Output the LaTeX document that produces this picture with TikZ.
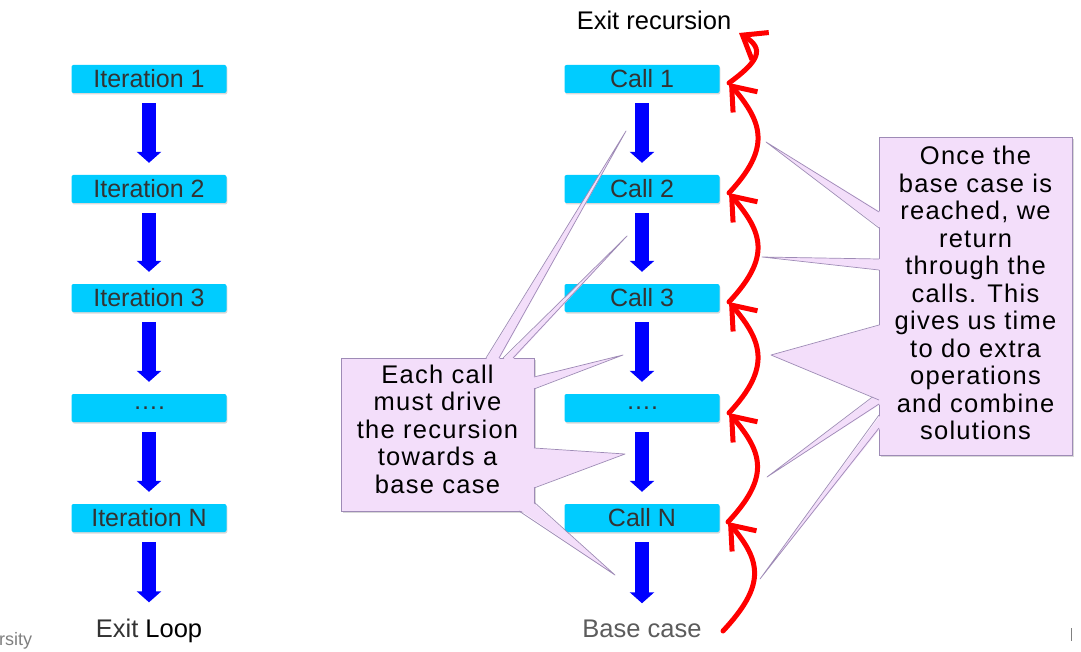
\documentclass[tikz,border=0pt]{standalone}
\usepackage{fontspec}
\setmainfont{Liberation Sans}
\newfontfamily\calloutfont[LetterSpace=5]{Liberation Sans}
\usetikzlibrary{arrows.meta,shadows}
\definecolor{boxcyan}{HTML}{00CCFF}
\definecolor{txtgray}{HTML}{333333}
\definecolor{callfill}{HTML}{F3DEFA}
\definecolor{calledge}{HTML}{9E8BB6}
\definecolor{arrblue}{HTML}{0000FF}
\definecolor{arrred}{HTML}{FF0000}
\begin{document}
\begin{tikzpicture}[x=1pt,y=-1pt,
  stepbox/.style={fill=boxcyan, rounded corners=2pt, minimum width=155pt, minimum height=28pt,
    inner sep=0pt, text=txtgray, font=\fontsize{25}{28}\selectfont,
    drop shadow={shadow xshift=0.8pt, shadow yshift=-1.5pt, opacity=0.3}},
  blockarrow/.style={draw=arrblue, line width=14pt, -{Triangle[length=11pt,width=24pt]},
    shorten <=10pt, shorten >=12pt},
  backarrow/.style={draw=arrred, line width=5pt, line cap=round,
    -{Straight Barb[length=21pt,width=32pt,line width=5pt]}},
  endtext/.style={inner sep=0pt, font=\fontsize{25.5}{28}\selectfont, anchor=base},
  calloutbox/.style={fill=callfill, draw=calledge, line width=0.8pt, inner sep=0pt,
    drop shadow={shadow xshift=2pt, shadow yshift=-2pt, opacity=0.3}},
  callouttext/.style={inner sep=0pt, align=center, font=\calloutfont\fontsize{25.5}{27.5}\selectfont},
  spikefill/.style={fill=callfill},
  spikeline/.style={draw=calledge, line width=0.7pt, line join=round}
]
\useasboundingbox (0,0) rectangle (1081,652);
\fill[white] (0,0) rectangle (1081,652);

% ---------------- left column: iteration ----------------
\node[stepbox] (i1) at (149,79) {Iteration 1};
\node[stepbox] (i2) at (149,189) {Iteration 2};
\node[stepbox] (i3) at (149,298) {Iteration 3};
\node[stepbox] (i4) at (149,408) {\dots.};
\node[stepbox] (i5) at (149,518) {Iteration N};
\node[endtext] (exitL) at (149,637) {\textcolor{txtgray}{Exit} Loop};

\draw[blockarrow] (i1) -- (i2);
\draw[blockarrow] (i2) -- (i3);
\draw[blockarrow] (i3) -- (i4);
\draw[blockarrow] (i4) -- (i5);
\draw[blockarrow, shorten >=16pt] (i5) -- (exitL);

% ---------------- right column: recursion ----------------
\node[endtext] (exitR) at (654,30) {Exit recursion};
\node[stepbox] (c1) at (642,79) {Call 1};
\node[stepbox] (c2) at (642,189) {Call 2};
\node[stepbox] (c3) at (642,298) {Call 3};
\node[stepbox] (c4) at (642,408) {\dots.};
\node[stepbox] (c5) at (642,518) {Call N};
\node[endtext, text=txtgray!80] (base) at (642,637) {Base case};

\draw[blockarrow] (c1) -- (c2);
\draw[blockarrow] (c2) -- (c3);
\draw[blockarrow] (c3) -- (c4);
\draw[blockarrow] (c4) -- (c5);
\draw[blockarrow, shorten >=16pt] (c5) -- (base);

% ---------------- red return arrows ----------------
\coordinate (r0) at (723,631);
\coordinate (r1) at (728,522);
\coordinate (r2) at (729,413);
\coordinate (r3) at (729,302);
\coordinate (r4) at (729,193);
\coordinate (r5) at (729,83);
\coordinate (r6) at (739,33);
\draw[backarrow] (r0) .. controls +(42,-45) and +(34,40) .. (r1);
\draw[backarrow] (r1) .. controls +(42,-45) and +(34,40) .. (r2);
\draw[backarrow] (r2) .. controls +(42,-45) and +(34,40) .. (r3);
\draw[backarrow] (r3) .. controls +(42,-45) and +(34,40) .. (r4);
\draw[backarrow] (r4) .. controls +(42,-45) and +(34,40) .. (r5);
\draw[backarrow] (r5) .. controls +(30,-22) and +(26,16) .. (r6);

% ---------------- left callout ----------------
\node[calloutbox, minimum width=193pt, minimum height=153pt] (cl) at (437.5,434.5) {};
\coordinate (t1) at (626,131);
\coordinate (t2) at (627,236);
\coordinate (t3) at (623,355);
\coordinate (t4) at (625,454);
\coordinate (t5) at (615,575);
\fill[spikefill] (486,359.5) -- (t1) -- (499,359.5) -- cycle;
\draw[spikeline] (486,358) -- (t1) -- (499,358);
\fill[spikefill] (503,359.5) -- (t2) -- (513,359.5) -- cycle;
\draw[spikeline] (503,358) -- (t2) -- (513,358);
\fill[spikefill] (532.5,377) -- (t3) -- (532.5,389) -- cycle;
\draw[spikeline] (534,377) -- (t3) -- (534,389);
\fill[spikefill] (532.5,448) -- (t4) -- (532.5,488) -- cycle;
\draw[spikeline] (534,448) -- (t4) -- (534,488);
\fill[spikefill] (519,509.5) -- (t5) -- (532.5,502) -- cycle;
\draw[spikeline] (519,511) -- (t5) -- (534,502);
\node[callouttext] (clt) at (437.5,429)
  {Each call\\must drive\\the recursion\\towards a\\base case};

% ---------------- right callout ----------------
\node[calloutbox, minimum width=193pt, minimum height=318pt] (cr) at (975.5,296) {};
\coordinate (u1) at (766,142);
\coordinate (u2) at (762,257);
\coordinate (u3) at (771,355);
\coordinate (u4) at (767,477);
\coordinate (u5) at (760,579);
\fill[spikefill] (880.5,212) -- (u1) -- (880.5,228) -- cycle;
\draw[spikeline] (879,212) -- (u1) -- (879,228);
\fill[spikefill] (880.5,259) -- (u2) -- (880.5,270) -- cycle;
\draw[spikeline] (879,259) -- (u2) -- (879,270);
\fill[spikefill] (880.5,392) -- (u4) -- (880.5,404) -- cycle;
\draw[spikeline] (879,392) -- (u4) -- (879,404);
\fill[spikefill] (880.5,325) -- (u3) -- (880.5,400) -- cycle;
\draw[spikeline] (879,325) -- (u3) -- (879,400);
\fill[spikefill] (880.5,415) -- (u5) -- (880.5,428) -- cycle;
\draw[spikeline] (879,415) -- (u5) -- (879,428);
\node[callouttext] (crt) at (975.5,293)
  {Once the\\base case is\\reached, we\\return\\through the\\calls. This\\gives us time\\to do extra\\operations\\and combine\\solutions};

% ---------------- page residue ----------------
\node[inner sep=0pt, anchor=base west, text=gray, font=\fontsize{18}{20}\selectfont] (uni) at (-1,645) {rsity};
\draw[gray, line width=0.8pt] (1071.5,628) -- (1071.5,641);
\end{tikzpicture}
\end{document}
